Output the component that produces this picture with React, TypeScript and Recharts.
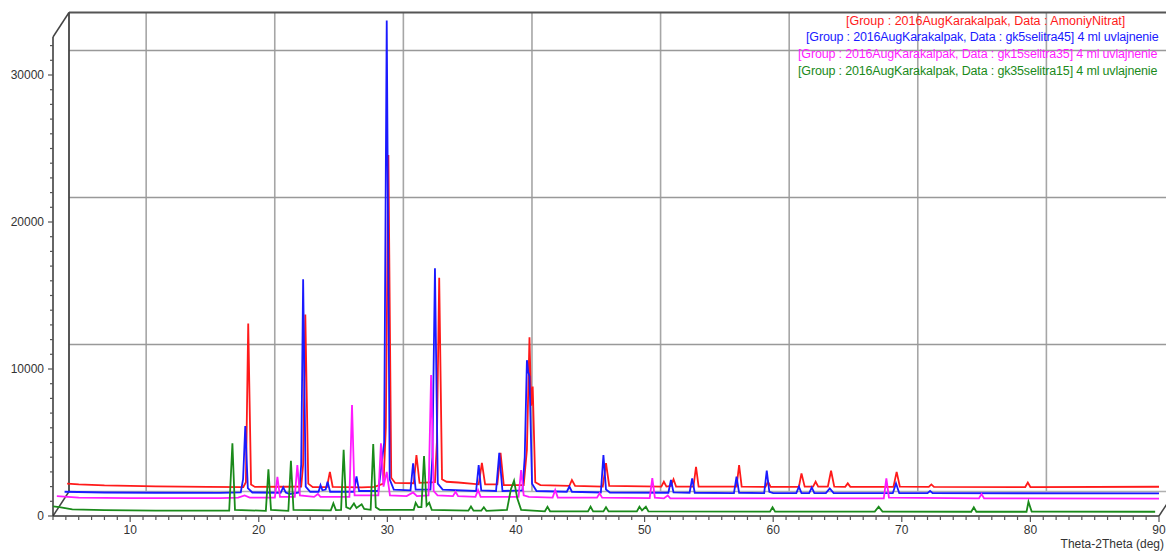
import React from 'react';
import { LineChart, Line, XAxis, YAxis, ReferenceLine, Legend } from 'recharts';

// ---- axis settings ----
const X_MIN = 4;
const X_MAX = 90;
const Y_MAX = 34966; // top of the drawing area (value units)
const Y_TOP = 32585; // top of the front frame
const DX = 1.244; // depth offset of the back wall (deg)
const DY = 1667; // depth offset of the back wall (counts)

const X_TICKS: number[] = Array.from({ length: X_MAX - X_MIN + 1 }, (_, i) => X_MIN + i);
const X_LABELS: number[] = [10, 20, 30, 40, 50, 60, 70, 80, 90];
const Y_TICKS: number[] = Array.from({ length: 33 }, (_, i) => i * 1000);
const Y_LABELS: number[] = [0, 10000, 20000, 30000];
const GRID_X: number[] = [10, 20, 30, 40, 50, 60, 70, 80];
const GRID_Y: number[] = [10000, 20000, 30000];

const SERIES_NAMES: string[] = [
  '[Group : 2016AugKarakalpak, Data : AmoniyNitrat]',
  '[Group : 2016AugKarakalpak, Data : gk5selitra45] 4 ml uvlajnenie',
  '[Group : 2016AugKarakalpak, Data : gk15selitra35] 4 ml uvlajnenie',
  '[Group : 2016AugKarakalpak, Data : gk35selitra15] 4 ml uvlajnenie',
];
const SERIES_COLORS: string[] = ['#ff1a1a', '#1a1aff', '#ff1aff', '#1a8a1a'];

// ---- series values [2theta, intensity] ----
const amoniyNitrat: [number, number][] = [
  [5.1, 2200], [6, 2150], [8, 2080], [12, 2020], [16, 1980], [18.8, 1970],
  [19.0, 2300], [19.18, 13100], [19.4, 2150], [19.7, 1980], [22, 1990],
  [23.3, 2000], [23.45, 3500], [23.62, 13700], [23.85, 2200], [24.2, 1960],
  [25.3, 1960], [25.53, 3000], [25.75, 1980], [28, 1950],
  [29.0, 1980], [29.7, 2200], [29.88, 6000], [30.08, 24550], [30.3, 2600], [30.6, 2250],
  [32.05, 2230], [32.26, 4150], [32.5, 2250],
  [33.7, 2300], [33.85, 5000], [34.03, 16200], [34.25, 2500], [34.6, 2330], [35.5, 2280],
  [37.1, 2150], [37.35, 3620], [37.6, 2150],
  [38.55, 2150], [38.8, 4300], [39.05, 2100],
  [40.6, 2100], [40.85, 4500], [41.05, 12150], [41.18, 7500], [41.3, 8800], [41.5, 2300], [41.9, 2100],
  [44.15, 2050], [44.35, 2450], [44.6, 2050],
  [46.75, 2000], [47.0, 3600], [47.25, 2050],
  [51.3, 2000], [51.5, 2330], [51.7, 2000],
  [52.05, 2050], [52.25, 2500], [52.45, 2000],
  [53.8, 2000], [54.0, 3350], [54.2, 2000],
  [57.15, 2000], [57.35, 3470], [57.55, 2000],
  [59.4, 1980], [59.6, 2330], [59.8, 1980],
  [62.0, 1980], [62.2, 2900], [62.45, 2000],
  [63.1, 2000], [63.3, 2330], [63.5, 2000],
  [64.25, 2000], [64.5, 3080], [64.75, 2000],
  [65.6, 1980], [65.8, 2220], [66.0, 1980],
  [69.35, 1980], [69.6, 3000], [69.85, 2000],
  [72.1, 1980], [72.3, 2150], [72.5, 1980],
  [79.6, 1970], [79.8, 2270], [80.0, 1970],
  [90, 1990],
];

const gk5selitra45: [number, number][] = [
  [4.9, 1650], [8, 1600], [12, 1580], [17, 1570], [18.6, 1600],
  [18.78, 2500], [18.95, 6120], [19.15, 1900], [19.5, 1600],
  [21.7, 1580], [21.9, 1950], [22.1, 1600], [22.4, 1500],
  [23.15, 1600], [23.3, 3500], [23.45, 16100], [23.65, 2000], [24.0, 1650],
  [24.65, 1650], [24.8, 2100], [24.95, 1750], [25.2, 1800], [25.35, 2330], [25.55, 1650],
  [27.4, 1650], [27.6, 2700], [27.8, 1700],
  [29.3, 1700], [29.75, 5000], [29.95, 33700], [30.18, 2500], [30.5, 1800],
  [31.8, 1750], [32.0, 3580], [32.2, 1800],
  [33.35, 1800], [33.5, 4000], [33.7, 16860], [33.92, 2200], [34.3, 1800],
  [36.9, 1700], [37.1, 3470], [37.3, 1750],
  [38.45, 1700], [38.7, 4300], [38.95, 1700],
  [40.5, 1750], [40.68, 4000], [40.85, 10600], [40.95, 9800], [41.05, 9500], [41.25, 2200], [41.6, 1700],
  [43.95, 1650], [44.15, 2000], [44.35, 1650],
  [46.6, 1600], [46.8, 4150], [47.0, 1800], [47.3, 1600],
  [51.85, 1580], [52.05, 2450], [52.25, 1600],
  [53.5, 1580], [53.7, 2560], [53.9, 1580],
  [56.95, 1560], [57.15, 2670], [57.35, 1580],
  [59.3, 1560], [59.5, 3080], [59.7, 1650], [60.0, 1560],
  [61.8, 1560], [62.0, 2000], [62.2, 1560],
  [62.8, 1560], [63.0, 1950], [63.2, 1560],
  [64.1, 1560], [64.4, 1880], [64.7, 1560],
  [69.3, 1550], [69.55, 2220], [69.8, 1560],
  [72.0, 1550], [72.2, 1700], [72.4, 1550],
  [90, 1540],
];

const gk15selitra35: [number, number][] = [
  [4.3, 1350], [6, 1250], [10, 1220], [17, 1220], [18.4, 1250], [18.9, 1400], [19.3, 1250],
  [21.25, 1250], [21.45, 2670], [21.65, 1300],
  [22.8, 1300], [23.0, 3470], [23.2, 1400], [24.3, 1300], [24.6, 1500], [24.8, 1300],
  [27.05, 1300], [27.25, 7550], [27.45, 1400],
  [29.3, 1400], [29.5, 4940], [29.7, 2000], [29.95, 3000], [30.2, 1400],
  [31.5, 1350], [32.0, 1600], [32.3, 1350],
  [33.2, 1400], [33.4, 9590], [33.6, 1700], [33.9, 1400],
  [35.1, 1350], [35.3, 1650], [35.5, 1350],
  [36.85, 1300], [37.05, 1770], [37.25, 1300],
  [40.2, 1300], [40.4, 3130], [40.6, 1400], [41.0, 1300],
  [42.85, 1250], [43.05, 1770], [43.25, 1250],
  [46.3, 1250], [46.5, 1540], [46.7, 1250],
  [50.4, 1220], [50.6, 2580], [50.8, 1250],
  [51.5, 1200], [51.8, 1400], [52.0, 1200],
  [68.6, 1200], [68.8, 2560], [69.0, 1250],
  [76.0, 1200], [76.2, 1500], [76.4, 1200],
  [90, 1180],
];

const gk35selitra15: [number, number][] = [
  [4.0, 650], [4.5, 600], [5.5, 450], [8, 400], [12, 370], [17.7, 360],
  [17.95, 4940], [18.15, 420],
  [20.55, 350], [20.75, 3170], [20.95, 420],
  [22.3, 350], [22.5, 3760], [22.7, 420],
  [25.6, 380], [25.8, 860], [26.0, 400],
  [26.4, 420], [26.6, 4500], [26.8, 600], [27.1, 480], [27.4, 850], [27.6, 550], [28.0, 800], [28.2, 480],
  [28.7, 420], [28.9, 4900], [29.1, 600], [29.4, 420],
  [32.05, 420], [32.2, 900], [32.4, 600], [32.65, 600], [32.85, 4080], [33.05, 700], [33.25, 900], [33.45, 420],
  [36.3, 360], [36.5, 650], [36.7, 360],
  [37.3, 360], [37.5, 600], [37.7, 350],
  [39.3, 420], [39.6, 1800], [39.85, 2400], [40.1, 1200], [40.4, 420],
  [42.25, 320], [42.45, 630], [42.65, 320],
  [45.6, 310], [45.8, 630], [46.0, 310],
  [46.8, 310], [47.0, 600], [47.2, 310],
  [49.4, 310], [49.6, 630], [49.8, 380], [50.1, 630], [50.3, 310],
  [59.75, 300], [59.95, 590], [60.15, 300],
  [67.9, 300], [68.2, 630], [68.5, 300],
  [75.4, 290], [75.6, 590], [75.8, 290],
  [79.7, 290], [79.85, 970], [80.1, 300],
  [89.7, 290],
];

const SERIES_DATA = [amoniyNitrat, gk5selitra45, gk15selitra35, gk35selitra15];
const toRows = (pts: [number, number][]) => pts.map(([x, y]) => ({ x, y }));

const FONT = '"Liberation Sans", Arial, sans-serif';
const LEGEND_LEFT = [846, 806, 798, 798];
const LEGEND_TOP = [13, 29, 46, 63];
const LEGEND_SPACING = [0, -0.16, -0.16, -0.16];

const YTick = (props: any) => {
  const { x, y, payload } = props;
  const v = payload.value as number;
  const major = Y_LABELS.includes(v);
  return (
    <g>
      <line x1={x - (major ? 5 : 3)} y1={y} x2={x} y2={y} stroke="#555" strokeWidth={1.2} />
      {major && (
        <text x={x - 9} y={y} dy="0.35em" textAnchor="end" fontSize={12} fill="#333" fontFamily={FONT}>
          {v}
        </text>
      )}
    </g>
  );
};

const XTick = (props: any) => {
  const { x, y, payload } = props;
  const v = payload.value as number;
  const major = X_LABELS.includes(v);
  return (
    <g>
      <line x1={x} y1={y} x2={x} y2={y + (major ? 6 : 4)} stroke="#555" strokeWidth={1.2} />
      {major && (
        <text x={x} y={y + 14} dy="0.35em" textAnchor="middle" fontSize={12} fill="#333" fontFamily={FONT}>
          {v}
        </text>
      )}
    </g>
  );
};

const AxisTitle = (props: any) => {
  const vb = props.viewBox || { x: 0, y: 0, width: 0 };
  return (
    <text x={vb.x + vb.width + 5} y={vb.y + 28} dy="0.35em" textAnchor="end" fontSize={12} fill="#333" fontFamily={FONT}>
      Theta-2Theta (deg)
    </text>
  );
};

const LegendContent = (props: any) => {
  const payload = props.payload || [];
  return (
    <div style={{ position: 'relative', width: 0, height: 0 }}>
      {payload.map((e: any, i: number) => {
        const idx = SERIES_NAMES.indexOf(e.value);
        const k = idx >= 0 ? idx : i;
        return (
          <div
            key={k}
            style={{
              position: 'absolute',
              left: LEGEND_LEFT[k],
              top: LEGEND_TOP[k],
              color: SERIES_COLORS[k],
              whiteSpace: 'nowrap',
              fontSize: 12.5,
              letterSpacing: LEGEND_SPACING[k],
              lineHeight: '16px',
              fontFamily: FONT,
            }}
          >
            {e.value}
          </div>
        );
      })}
    </div>
  );
};

const seg = (x1: number, y1: number, x2: number, y2: number) => [
  { x: x1, y: y1 },
  { x: x2, y: y2 },
];

export default function App() {
  return (
    <div style={{ position: 'absolute', left: 0, top: 0, width: 1166, height: 553, overflow: 'hidden', background: '#fff' }}>
      <LineChart width={1166} height={553} margin={{ top: 2, right: 7, bottom: 7, left: 3 }}>
        <XAxis
          type="number"
          dataKey="x"
          domain={[X_MIN, X_MAX]}
          ticks={X_TICKS}
          interval={0}
          tick={<XTick />}
          tickSize={0}
          tickMargin={0}
          tickLine={false}
          axisLine={{ stroke: '#333', strokeWidth: 1.5 }}
          height={30}
          allowDataOverflow
          label={<AxisTitle />}
        />
        <YAxis
          type="number"
          domain={[0, Y_MAX]}
          ticks={Y_TICKS}
          interval={0}
          tick={<YTick />}
          tickSize={0}
          tickMargin={0}
          tickLine={false}
          axisLine={false}
          width={50}
        />
        {GRID_X.map((v) => (
          <ReferenceLine key={'gx' + v} segment={seg(v + DX, DY, v + DX, Y_TOP + DY)} stroke="#a6a6a6" strokeWidth={1.6} ifOverflow="visible" />
        ))}
        {GRID_Y.map((v) => (
          <ReferenceLine key={'gy' + v} segment={seg(X_MIN + DX, v + DY, X_MAX + DX, v + DY)} stroke="#999" strokeWidth={1.6} ifOverflow="visible" />
        ))}
        <ReferenceLine segment={seg(X_MIN + DX, DY, X_MAX + DX, DY)} stroke="#b0b0b0" strokeWidth={1.4} ifOverflow="visible" />
        <ReferenceLine segment={seg(X_MIN + DX, Y_TOP + DY, X_MAX + DX, Y_TOP + DY)} stroke="#555" strokeWidth={1.8} ifOverflow="visible" />
        <ReferenceLine segment={seg(X_MIN + DX, DY, X_MIN + DX, Y_TOP + DY)} stroke="#444" strokeWidth={1.8} ifOverflow="visible" />
        <ReferenceLine segment={seg(X_MIN, Y_TOP, X_MIN + DX, Y_TOP + DY)} stroke="#444" strokeWidth={1.5} ifOverflow="visible" />
        <ReferenceLine segment={seg(X_MIN, 0, X_MIN + DX, DY)} stroke="#444" strokeWidth={1.5} ifOverflow="visible" />
        <ReferenceLine segment={seg(X_MAX, 0, X_MAX + DX, DY)} stroke="#444" strokeWidth={1.5} ifOverflow="visible" />
        <ReferenceLine segment={seg(X_MIN, 0, X_MIN, Y_TOP)} stroke="#333" strokeWidth={1.5} ifOverflow="visible" />
        {SERIES_DATA.map((pts, i) => (
          <Line
            key={SERIES_NAMES[i]}
            name={SERIES_NAMES[i]}
            data={toRows(pts)}
            dataKey="y"
            type="linear"
            stroke={SERIES_COLORS[i]}
            strokeWidth={1.8}
            dot={false}
            activeDot={false}
            isAnimationActive={false}
          />
        ))}
        <Legend
          content={<LegendContent />}
          wrapperStyle={{ position: 'absolute', left: 0, top: 0, width: 0, height: 0 }}
        />
      </LineChart>
    </div>
  );
}
